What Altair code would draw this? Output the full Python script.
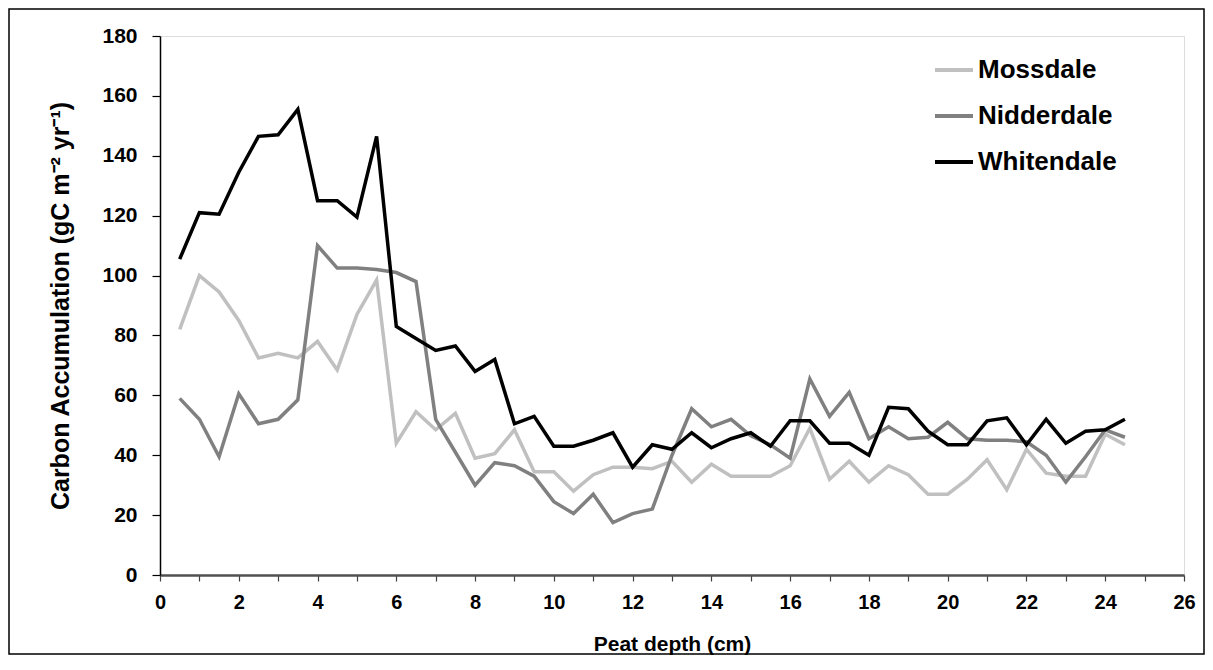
import altair as alt
import pandas as pd

depth = [0.5, 1.0, 1.5, 2.0, 2.5, 3.0, 3.5, 4.0, 4.5, 5.0, 5.5, 6.0, 6.5, 7.0, 7.5, 8.0, 8.5,
         9.0, 9.5, 10.0, 10.5, 11.0, 11.5, 12.0, 12.5, 13.0, 13.5, 14.0, 14.5, 15.0, 15.5,
         16.0, 16.5, 17.0, 17.5, 18.0, 18.5, 19.0, 19.5, 20.0, 20.5, 21.0, 21.5, 22.0, 22.5,
         23.0, 23.5, 24.0, 24.5]

mossdale = [82, 100, 94.5, 85, 72.5, 74, 72.5, 78, 68.5, 87, 98.5, 44, 54.5, 48.5, 54, 39, 40.5,
            48.5, 34.5, 34.5, 28, 33.5, 36, 36, 35.5, 38, 31, 37, 33, 33, 33,
            36.5, 49, 32, 38, 31, 36.5, 33.5, 27, 27, 32, 38.5, 28.5, 42, 34,
            33, 33, 47, 43.5]

nidderdale = [59, 52, 39.5, 60.5, 50.5, 52, 58.5, 110, 102.5, 102.5, 102, 101, 98, 52, 41, 30, 37.5,
              36.5, 33, 24.5, 20.5, 27, 17.5, 20.5, 22, 40, 55.5, 49.5, 52, 46.5, 43.5,
              39, 65.5, 53, 61, 45.5, 49.5, 45.5, 46, 51, 45.5, 45, 45, 44.5, 40,
              31, 39.5, 48.5, 46]

whitendale = [105.5, 121, 120.5, 134.5, 146.5, 147, 155.5, 125, 125, 119.5, 146.5, 83, 79, 75, 76.5, 68, 72,
              50.5, 53, 43, 43, 45, 47.5, 36, 43.5, 42, 47.5, 42.5, 45.5, 47.5, 43,
              51.5, 51.5, 44, 44, 40, 56, 55.5, 48, 43.5, 43.5, 51.5, 52.5, 43.5, 52,
              44, 48, 48.5, 52]

sites = ["Mossdale", "Nidderdale", "Whitendale"]
colors = ["#c0c0c0", "#808080", "#000000"]

rows = []
for name, vals in zip(sites, [mossdale, nidderdale, whitendale]):
    for d, v in zip(depth, vals):
        rows.append({"depth": d, "value": v, "site": name})
df = pd.DataFrame(rows)

x_ticks = [i * 0.5 for i in range(0, 53)]
y_ticks = list(range(0, 181, 20))

W, H = 1024, 539
PL, PT, PR, PB = 152, 28, 21, 80

lines = alt.Chart(df).mark_line(strokeWidth=3.5, clip=False).encode(
    x=alt.X("depth:Q",
            scale=alt.Scale(domain=[0, 26], nice=False, zero=False),
            axis=alt.Axis(values=x_ticks, title="Peat depth (cm)",
                          labelExpr="datum.value % 2 == 0 ? datum.label : ''",
                          format="d", labelFontSize=20, labelFontWeight="bold",
                          labelColor="#000", labelPadding=11,
                          tickSize=6, tickColor="#404040", tickWidth=1.2,
                          domainColor="#505050", domainWidth=2.5,
                          titleFontSize=21, titleFontWeight="bold", titleColor="#000",
                          titlePadding=21, grid=False, labelFlush=False)),
    y=alt.Y("value:Q",
            scale=alt.Scale(domain=[0, 180], nice=False),
            axis=alt.Axis(values=y_ticks, title="Carbon Accumulation (gC m\u207b\u00b2  yr\u207b\u00b9)",
                          labelFontSize=21, labelFontWeight="bold", labelColor="#000",
                          labelPadding=15, tickSize=8, tickColor="#000", tickWidth=1.2,
                          domainColor="#000", domainWidth=1.5,
                          titleFontSize=25, titleFontWeight="bold", titleColor="#000",
                          titlePadding=28, grid=False)),
    color=alt.Color("site:N",
                    scale=alt.Scale(domain=sites, range=colors),
                    legend=alt.Legend(title=None, orient="none", legendX=773, legendY=13,
                                      symbolType="stroke", symbolSize=1444,
                                      symbolStrokeWidth=4, labelFontSize=26,
                                      labelFontWeight="bold", labelColor="#000",
                                      labelOffset=3, rowPadding=12, padding=0)),
)

border = alt.Chart(pd.DataFrame({"k": [1]})).mark_rect(
    fill=None, stroke="#000", strokeWidth=1.5, clip=False
).encode(
    x=alt.value(-PL + 1), x2=alt.value(W + PR - 1),
    y=alt.value(-PT + 1), y2=alt.value(H + PB - 1),
)

chart = alt.layer(border, lines).properties(
    width=W, height=H,
    padding={"left": PL, "top": PT, "right": PR, "bottom": PB},
    autosize=alt.AutoSizeParams(type="none"),
).configure_view(stroke=None).configure(
    font="Liberation Sans", background="#ffffff"
)

chart.save("out.html", embed_options={"renderer": "svg", "actions": False})
